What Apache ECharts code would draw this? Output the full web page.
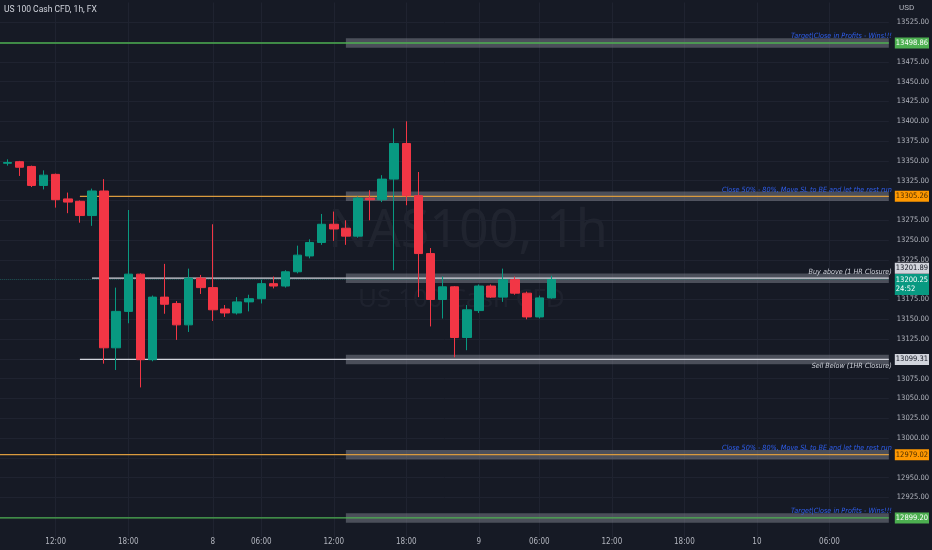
<!DOCTYPE html>
<html><head><meta charset="utf-8">
<script src="https://cdn.jsdelivr.net/npm/echarts@6/dist/echarts.min.js"></script>
<style>html,body{margin:0;padding:0;background:#161a25;}#c{width:932px;height:550px;}</style>
</head><body><div id="c"></div>
<script>
// ---- data ----
const opens  = [13347,13349,13343,13319,13333,13302,13299,13281,13312,13114,13160,13207,13099,13178,13170,13143,13202,13190,13163,13158,13172,13176,13195,13192,13210,13230,13247,13270,13265,13255,13303,13301,13327,13372,13306,13233,13175,13191,13127,13161,13192,13178,13200,13183,13153,13177];
const closes = [13348,13342,13319,13332,13301,13298,13281,13312,13114,13160,13207,13099,13178,13169,13143,13202,13190,13162,13158,13172,13176,13195,13192,13210,13231,13247,13270,13264,13255,13303,13301,13327,13372,13306,13233,13175,13191,13127,13162,13192,13178,13200,13183,13153,13177,13200.25];
const lows   = [13344,13331,13317,13314,13291,13284,13272,13268,13094,13086,13145,13064,13097,13157,13124,13134,13182,13148,13153,13156,13160,13170,13189,13190,13208,13227,13244,13249,13244,13253,13275,13298,13212,13294,13178,13141,13151,13102,13111,13158,13177,13172,13181,13150,13151,13176];
const highs  = [13352,13350,13344,13338,13334,13310,13300,13315,13327,13190,13288,13208,13180,13220,13173,13214,13206,13270,13168,13178,13181,13200,13204,13212,13243,13251,13283,13286,13275,13305,13313,13332,13391,13400,13336,13240,13204,13192,13168,13194,13194,13214,13204,13185,13180,13205];

const tickSlots  = [4,10,17,21,27,33,39,44,50,56,62,68];
const tickLabels = ['12:00','18:00','8','06:00','12:00','18:00','9','06:00','12:00','18:00','10','06:00'];

const levelPrices = [13498.86, 13305.26, 13201.89, 13099.31, 12979.02, 12899.20];
const levelStartSlots = [null, 6, 7, 6, null, null];
const levelNotes = ['Target|Close in Profits - Wins!!!','Close 50% - 80%, Move SL to BE and let the rest run','Buy above (1 HR Closure)','Sell Below (1HR Closure)','Close 50% - 80%, Move SL to BE and let the rest run','Target|Close in Profits - Wins!!!'];
const bandStartSlot = 28;
const lastPrice = 13200.25;
const countdown = '24:52';

// ---- styles ----
const XMIN = -0.61, XMAX = 72.91;
const FONT = '"Liberation Sans Narrow","DejaVu Sans Condensed","Roboto Condensed",Roboto,sans-serif';
const levelColors = ['#4caf50','#ff9800','#d1d4dc','#d1d4dc','#ff9800','#4caf50'];
const lineColors  = ['#4caf50','#d99a3e','#d1d4dc','#d1d4dc','#d99a3e','#4caf50'];
const boxText     = ['#ffffff','#4a2d00','#131722','#131722','#4a2d00','#ffffff'];
const noteColors  = ['#2f5fef','#2f5fef','#d1d4dc','#d1d4dc','#2f5fef','#2f5fef'];
const notePos     = ['insideEndTop','insideEndTop','insideEndTop','insideEndBottom','insideEndTop','insideEndTop'];
const boxOffset   = [[4,0],[4,0],[4,-10],[4,0],[4,0],[4,0]];
const CLEAR = 'rgba(0,0,0,0)';

const chart = echarts.init(document.getElementById('c'), null, {renderer:'canvas'});

const series = [];
// vertical grid lines
series.push({
  type:'line', xAxisIndex:0, yAxisIndex:0, data:[], z:0, silent:true,
  markLine:{silent:true, z:0, symbol:'none', animation:false,
    lineStyle:{color:'#1f2330', width:1, type:'solid'}, label:{show:false},
    data: tickSlots.map(s => ({xAxis:s}))}
});
// bands
series.push({
  type:'line', xAxisIndex:0, yAxisIndex:0, data:[], z:1, silent:true,
  markArea:{silent:true, z:1, animation:false,
    itemStyle:{color:'rgba(120,123,134,0.55)'},
    data: levelPrices.map(p => [{coord:[bandStartSlot, p-6]},{coord:[XMAX, p+6]}])}
});
// current price
series.push({
  type:'line', xAxisIndex:0, yAxisIndex:0, z:2, silent:true, symbol:'none',
  data:[[XMIN,lastPrice],[XMAX,lastPrice]],
  lineStyle:{color:'rgba(8,153,129,0.35)', width:1, type:'dotted'},
  markLine:{silent:true, z:8, symbol:'none', animation:false, lineStyle:{color:CLEAR, width:0},
    data:[{yAxis:lastPrice, label:{show:true, position:'end', distance:2,
      formatter: lastPrice.toFixed(2) + '\n' + countdown,
      backgroundColor:'#089981', color:'#ffffff', fontSize:7.5, fontFamily:FONT,
      padding:[1,1], lineHeight:9.5, offset:[4,5]}}]}
});
// candles
series.push({
  type:'candlestick', xAxisIndex:0, yAxisIndex:0, z:5, barWidth:9,
  encode:{x:0, y:[1,2,3,4]},
  data: opens.map((o,i) => [i, o, closes[i], lows[i], highs[i]]),
  itemStyle:{color:'#089981', color0:'#f23645', borderColor:'#089981', borderColor0:'#f23645', borderWidth:1}
});
// level lines
levelPrices.forEach((p, k) => {
  const st = levelStartSlots[k] === null ? XMIN : levelStartSlots[k];
  series.push({
    type:'line', xAxisIndex:0, yAxisIndex:0, z:3, silent:true, symbol:'none',
    data:[[st, p],[XMAX, p]],
    lineStyle:{color:lineColors[k], width:1.3},
    markLine:{silent:true, z:7, symbol:'none', animation:false,
      lineStyle:{color:CLEAR, width:0},
      data:[
        {yAxis:p, label:{show:true, position:notePos[k], formatter:levelNotes[k], distance:3, offset:[6,0],
          color:noteColors[k], fontStyle:'italic', fontSize:7.2, fontFamily:FONT}},
        {yAxis:p, label:{show:true, position:'end', distance:2, formatter:p.toFixed(2),
          backgroundColor:levelColors[k], color:boxText[k], fontSize:7.5, fontFamily:FONT,
          padding:[1,1], lineHeight:9, offset:boxOffset[k]}}
      ]}
  });
});

function hideY(v){
  if (v <= 12875 || v >= 13550) return true;
  return levelPrices.some(p => Math.abs(p - v) < 12);
}

chart.setOption({
  animation:false,
  backgroundColor:'#161a25',
  grid:{left:0, right:38, top:2.5, bottom:12.9, containLabel:false},
  xAxis:[{
    type:'value', min:XMIN, max:XMAX,
    axisLine:{show:false}, axisTick:{show:false}, splitLine:{show:false},
    axisLabel:{customValues:tickSlots, margin:1, color:'#b2b5be', fontSize:8, fontFamily:FONT,
      formatter: v => { const i = tickSlots.indexOf(Math.round(v)); return i >= 0 ? tickLabels[i] : ''; }}
  }],
  yAxis:[{
    type:'value', position:'right', min:12875, max:13550, interval:25, scale:true,
    axisLine:{show:false}, axisTick:{show:false},
    splitLine:{show:true, showMinLine:false, showMaxLine:false, lineStyle:{color:'#1f2330', width:1}},
    axisLabel:{margin:8, color:'#b2b5be', fontSize:7.5, fontFamily:FONT,
      formatter: v => hideY(v) ? '' : v.toFixed(2)}
  }],
  graphic:[
    {type:'text', left:328, top:206, silent:true, z:0,
      style:{text:'NAS100, 1h', font:'52px "Noto Sans", sans-serif', fill:'rgba(200,204,215,0.06)'}},
    {type:'text', left:358, top:287, silent:true, z:0,
      style:{text:'US 100 Cash CFD', font:'26px "Noto Sans", sans-serif', fill:'rgba(200,204,215,0.05)'}},
    {type:'text', left:4, top:5, silent:true, z:10,
      style:{text:'US 100 Cash CFD, 1h, FX', font:'8.5px Roboto, sans-serif', fill:'#d1d4dc'}},
    {type:'text', left:899, top:4, silent:true,
      style:{text:'USD', font:'8px Roboto, sans-serif', fill:'#b2b5be'}}
  ],
  series: series
});
</script></body></html>
